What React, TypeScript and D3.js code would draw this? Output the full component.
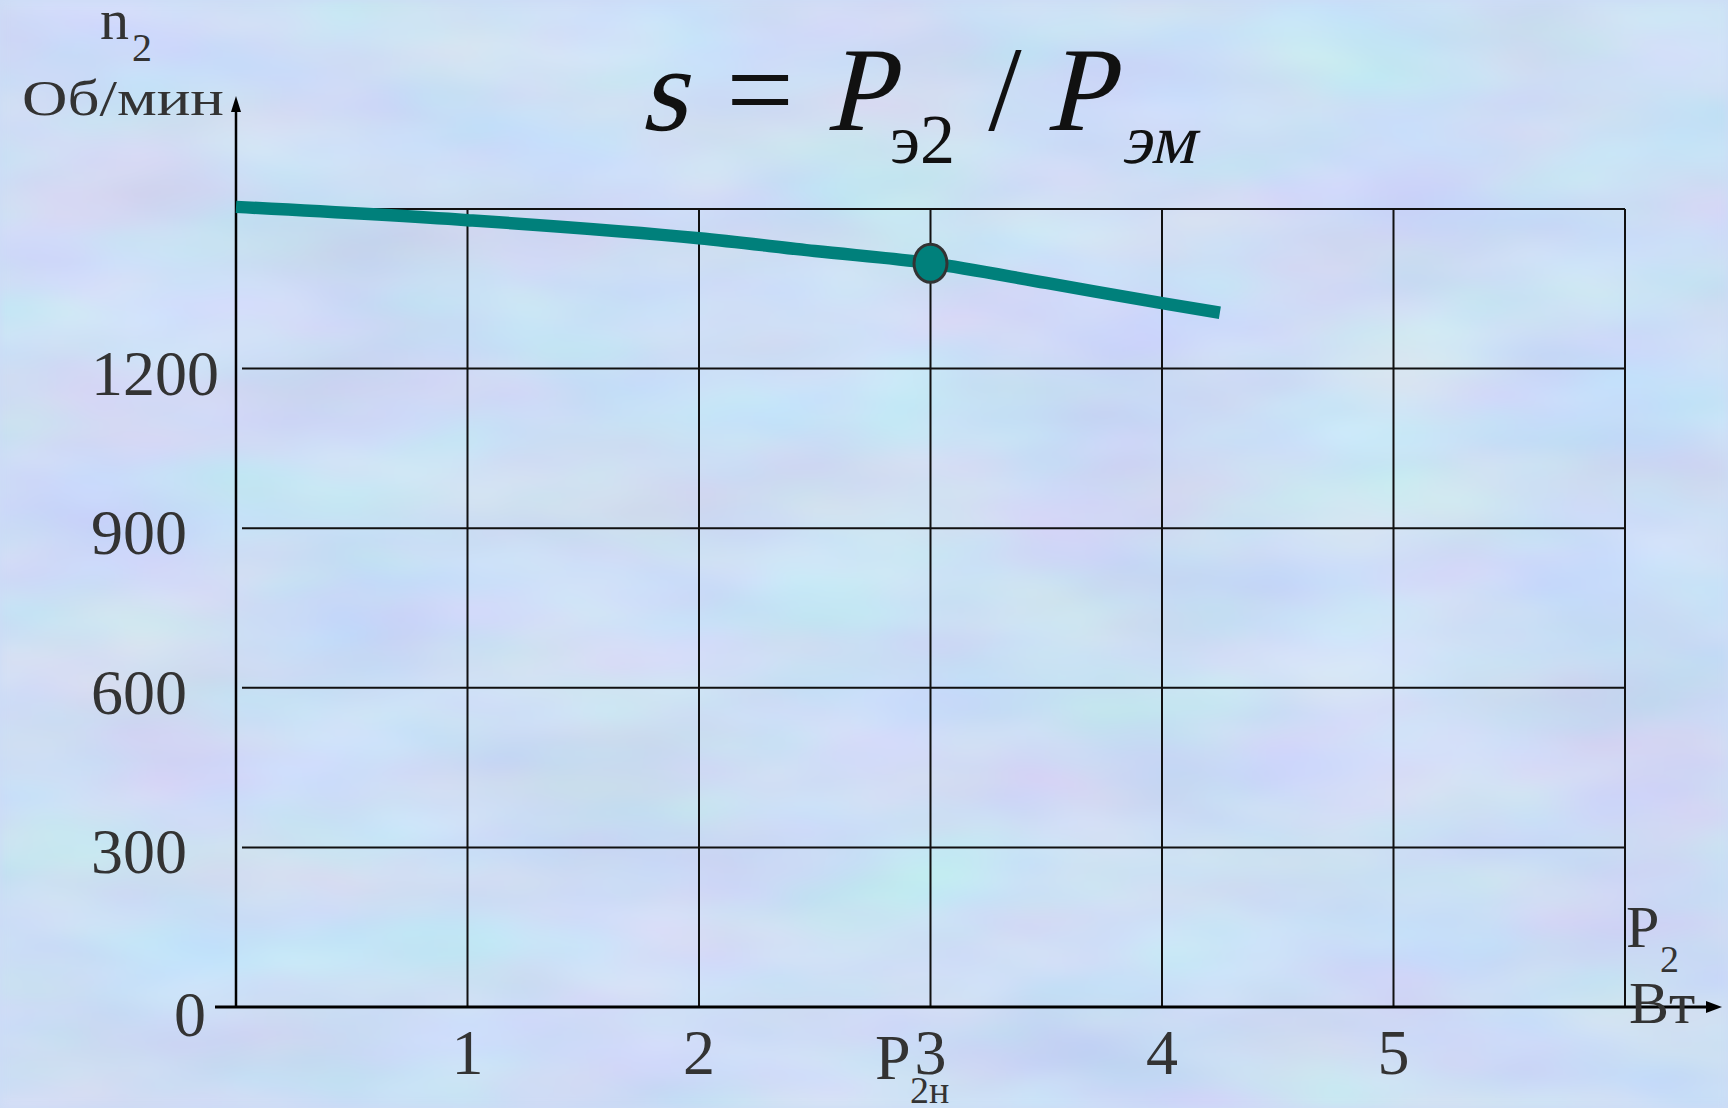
import React from 'react';
import * as d3 from 'd3';

// характеристика n2 = f(P2)
const P2 = [0, 1, 2, 2.5, 3, 3.5, 4, 4.25];
const N2 = [1504, 1479, 1445, 1421, 1398, 1361, 1323, 1305];
const X_TICKS = [1, 2, 3, 4, 5];
const Y_TICKS = [300, 600, 900, 1200];
const X_GRID = [1, 2, 3, 4, 5, 6];
const Y_GRID = [300, 600, 900, 1200, 1500];
const RATED_P2 = 3;

const W = 1728;
const H = 1108;
const FONT = '"Liberation Serif", "Times New Roman", serif';
const TEAL = '#00807b';
const INK = '#333';

// наклон вместо курсива, чтобы остаться в том же шрифте
const Ital = ({ x, y, size, children }: { x: number; y: number; size: number; children: React.ReactNode }) => (
    <text transform={`translate(${x},${y}) skewX(-13)`} fontSize={size}>{children}</text>
);

const App = () => {
    const x = d3.scaleLinear().domain([0, 6]).range([236, 1625]);
    const y = d3.scaleLinear().domain([0, 1500]).range([1007, 209]);

    const pts: [number, number][] = P2.map((p, i) => [p, N2[i]]);
    const line = d3.line<[number, number]>()
        .x(d => x(d[0]))
        .y(d => y(d[1]))
        .curve(d3.curveMonotoneX);

    const ratedN = N2[P2.indexOf(RATED_P2)];
    const x0 = x(0);
    const y0 = y(0);

    return (
        <svg width={W} height={H} style={{ position: 'absolute', left: 0, top: 0, display: 'block' }}
            fontFamily={FONT}>
            <defs>
                <filter id="paper" x="0" y="0" width="100%" height="100%" colorInterpolationFilters="sRGB">
                    <feTurbulence type="fractalNoise" baseFrequency="0.004 0.011" numOctaves={3} seed={7} />
                    <feColorMatrix type="matrix"
                        values="0.16 0 0 0 0.72  0 0.14 0 0 0.8  0 0 0.08 0 0.92  0 0 0 0 1" />
                    <feGaussianBlur stdDeviation="4" />
                </filter>
            </defs>
            <rect width={W} height={H} fill="#cddcf6" />
            <rect width={W} height={H} filter="url(#paper)" />

            {/* сетка */}
            <g stroke="#111" strokeWidth={2}>
                {Y_GRID.map(v => (
                    <line key={'h' + v} x1={x0 + 6} x2={x(6)} y1={y(v)} y2={y(v)} />
                ))}
                {X_GRID.map(v => (
                    <line key={'v' + v} x1={x(v)} x2={x(v)} y1={y(1500)} y2={y0} />
                ))}
            </g>

            {/* оси */}
            <g stroke="#000" fill="#000">
                <line x1={x0} x2={x0} y1={y0} y2={108} strokeWidth={2.5} />
                <path d={`M${x0},96 L${x0 - 5},112 L${x0 + 5},112 Z`} stroke="none" />
                <line x1={215} x2={1710} y1={y0} y2={y0} strokeWidth={3} />
                <path d={`M1722,${y0} L1706,${y0 - 6} L1706,${y0 + 6} Z`} stroke="none" />
            </g>

            {/* кривая */}
            <path d={line(pts) || ''} fill="none" stroke={TEAL} strokeWidth={12.5} />
            <ellipse cx={x(RATED_P2)} cy={y(ratedN)} rx={16.5} ry={19}
                fill={TEAL} stroke="#333" strokeWidth={3} />

            {/* подписи делений */}
            <g fill={INK} fontSize={64}>
                {Y_TICKS.map(v => (
                    <text key={'yt' + v} x={91} y={y(v) + 26}>{v}</text>
                ))}
                <text x={174} y={y0 + 29}>0</text>
                {X_TICKS.map(v => (
                    <text key={'xt' + v} x={x(v)} y={1074} textAnchor="middle">{v}</text>
                ))}
            </g>

            {/* P2н */}
            <g fill={INK}>
                <text x={875} y={1079} fontSize={64}>P</text>
                <text x={910} y={1103} fontSize={38}>2н</text>
            </g>

            {/* подписи осей */}
            <g fill={INK}>
                <text x={100} y={39} fontSize={58}>n</text>
                <text x={132} y={61} fontSize={40}>2</text>
                <text x={22} y={115} fontSize={50} textLength={202} lengthAdjust="spacingAndGlyphs">Об/мин</text>

                <text x={1626} y={947} fontSize={60}>P</text>
                <text x={1660} y={972} fontSize={38}>2</text>
                <text x={1629} y={1023} fontSize={60}>Вт</text>
            </g>

            {/* формула */}
            <g fill="#111">
                <Ital x={640} y={130} size={120}>s</Ital>
                <text x={760} y={130} fontSize={120} textAnchor="middle">=</text>
                <Ital x={825} y={130} size={120}>P</Ital>
                <text x={890} y={163} fontSize={70}>э2</text>
                <text x={1005} y={130} fontSize={120} textAnchor="middle">/</text>
                <Ital x={1045} y={130} size={120}>P</Ital>
                <Ital x={1121} y={163} size={70}>эм</Ital>
            </g>
        </svg>
    );
};

export default App;
